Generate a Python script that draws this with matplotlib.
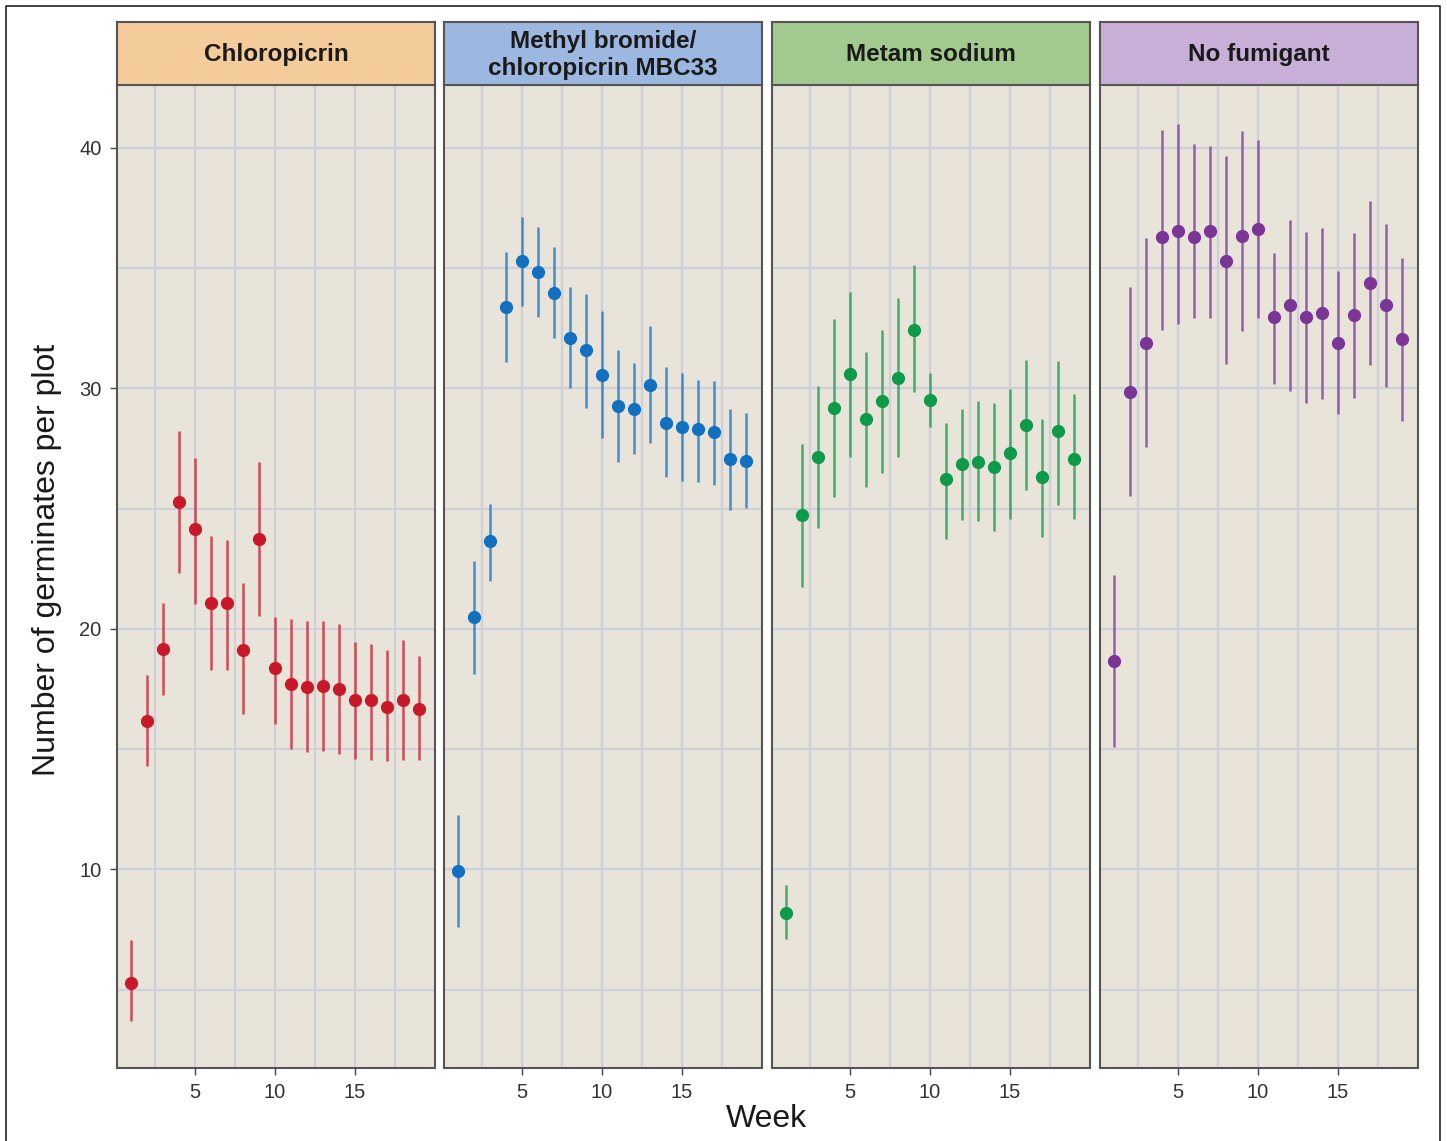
import numpy as np
import matplotlib.pyplot as plt
from matplotlib.lines import Line2D

plt.rcParams['font.family'] = ['Liberation Sans', 'DejaVu Sans']

weeks = np.arange(1, 20)

treatments = ["Chloropicrin", "Methyl bromide/\nchloropicrin MBC33",
              "Metam sodium", "No fumigant"]

# mean germinates per plot and the upper / lower ends of each interval
chloro_mean = [5.28, 16.18, 19.17, 25.28, 24.14, 21.07, 21.07, 19.14, 23.74, 18.37,
               17.69, 17.60, 17.61, 17.50, 17.03, 17.03, 16.75, 17.03, 16.65]
chloro_hi = [7.07, 18.09, 21.08, 28.23, 27.12, 23.84, 23.68, 21.90, 26.92, 20.48,
             20.42, 20.32, 20.32, 20.21, 19.45, 19.38, 19.14, 19.52, 18.86]
chloro_lo = [3.72, 14.28, 17.27, 22.34, 21.03, 18.27, 18.31, 16.45, 20.55, 16.05,
             15.00, 14.90, 14.93, 14.79, 14.60, 14.55, 14.50, 14.55, 14.56]

mbc_mean = [9.95, 20.48, 23.63, 33.38, 35.30, 34.82, 33.97, 32.08, 31.58, 30.56,
            29.26, 29.15, 30.15, 28.56, 28.40, 28.29, 28.19, 27.05, 26.96]
mbc_hi = [12.28, 22.80, 25.20, 35.68, 37.10, 36.71, 35.86, 34.21, 33.90, 33.19,
          31.58, 31.04, 32.58, 30.89, 30.63, 30.36, 30.30, 29.15, 28.95]
mbc_lo = [7.63, 18.12, 21.99, 31.07, 33.42, 32.95, 32.10, 30.00, 29.19, 27.95,
          26.93, 27.26, 27.74, 26.30, 26.14, 26.11, 25.97, 24.95, 25.01]

metam_mean = [8.21, 24.75, 27.16, 29.18, 30.59, 28.74, 29.45, 30.41, 32.43, 29.52,
              26.22, 26.84, 26.92, 26.74, 27.29, 28.49, 26.33, 28.21, 27.06]
metam_hi = [9.37, 27.68, 30.08, 32.89, 33.98, 31.52, 32.43, 33.74, 35.14, 30.63,
            28.57, 29.15, 29.45, 29.38, 29.97, 31.18, 28.74, 31.14, 29.74]
metam_lo = [7.10, 21.73, 24.18, 25.49, 27.16, 25.88, 26.47, 27.16, 29.84, 28.39,
            23.72, 24.51, 24.48, 24.07, 24.57, 25.76, 23.82, 25.16, 24.55]

nofum_mean = [18.66, 29.83, 31.87, 36.28, 36.54, 36.29, 36.52, 35.28, 36.32, 36.60,
              32.96, 33.45, 32.96, 33.14, 31.87, 33.03, 34.38, 33.44, 32.04]
nofum_hi = [22.22, 34.21, 36.24, 40.74, 40.99, 40.16, 40.07, 39.63, 40.69, 40.30,
            35.62, 36.98, 36.51, 36.67, 34.86, 36.43, 37.77, 36.82, 35.43]
nofum_lo = [15.09, 25.50, 27.56, 32.42, 32.65, 32.90, 32.93, 30.99, 32.36, 32.93,
            30.18, 29.88, 29.39, 29.56, 28.94, 29.60, 30.96, 30.04, 28.62]

means = [chloro_mean, mbc_mean, metam_mean, nofum_mean]
highs = [chloro_hi, mbc_hi, metam_hi, nofum_hi]
lows = [chloro_lo, mbc_lo, metam_lo, nofum_lo]

point_colors = ["#C8192B", "#1170C0", "#0E9A48", "#7A3596"]
strip_colors = ["#F4CB9B", "#9DB8E0", "#A3CA8E", "#C8AFD7"]
panel_bg = "#E8E4D9"
grid_col = "#CDD0D9"
frame_col = "#555555"

W, H = 1447, 1141
fig = plt.figure(figsize=(W / 100, H / 100), dpi=100)

lefts = [117, 444, 772, 1100]
pw = 318
top_px, bot_px, strip_top = 85, 1068, 22

for i in range(4):
    x0 = lefts[i] / W
    ax = fig.add_axes([x0, 1 - bot_px / H, pw / W, (bot_px - top_px) / H])
    ax.set_facecolor(panel_bg)
    ax.set_xlim(0.15, 20.0)
    ax.set_ylim(1.75, 42.6)
    for g in [2.5, 5, 7.5, 10, 12.5, 15, 17.5]:
        ax.axvline(g, color=grid_col, lw=1.6, zorder=0)
    for g in [5, 10, 15, 20, 25, 30, 35, 40]:
        ax.axhline(g, color=grid_col, lw=1.6, zorder=0)

    m = np.array(means[i])
    hi = np.array(highs[i])
    lo = np.array(lows[i])
    ax.vlines(weeks, lo, hi, color=point_colors[i], lw=1.8, alpha=0.75, zorder=2)
    ax.plot(weeks, m, 'o', color=point_colors[i], ms=8.5, zorder=3)

    ax.set_xticks([5, 10, 15])
    ax.set_yticks([10, 20, 30, 40])
    ax.tick_params(length=5, width=1, color="#444444", labelsize=14.5,
                   labelcolor="#333333", pad=6)
    if i > 0:
        ax.tick_params(axis='y', left=False, labelleft=False)
    for s in ax.spines.values():
        s.set_color(frame_col)
        s.set_linewidth(1.5)

    # facet strip
    sx = fig.add_axes([x0, 1 - top_px / H, pw / W, (top_px - strip_top) / H])
    sx.set_facecolor(strip_colors[i])
    sx.set_xticks([])
    sx.set_yticks([])
    for s in sx.spines.values():
        s.set_color(frame_col)
        s.set_linewidth(1.5)
    sx.text(0.5, 0.48, treatments[i], ha='center', va='center', fontsize=17.5,
            fontweight='bold', color="#1a1a1a", linespacing=1.22,
            transform=sx.transAxes)

fig.text(766 / W, 1 - 1119 / H, "Week", ha='center', va='center', fontsize=23,
         color="#1a1a1a")
fig.text(47 / W, 1 - 560 / H, "Number of germinates per plot", ha='center',
         va='center', rotation=90, fontsize=23, color="#1a1a1a")

# thin outer frame on the left, top and right
fx = [6 / W, 6 / W, 1440 / W, 1440 / W]
fy = [0, 1 - 6 / H, 1 - 6 / H, 0]
fig.add_artist(Line2D(fx, fy, color="#222222", lw=1.2, transform=fig.transFigure))

fig.savefig("out.png", dpi=100)
